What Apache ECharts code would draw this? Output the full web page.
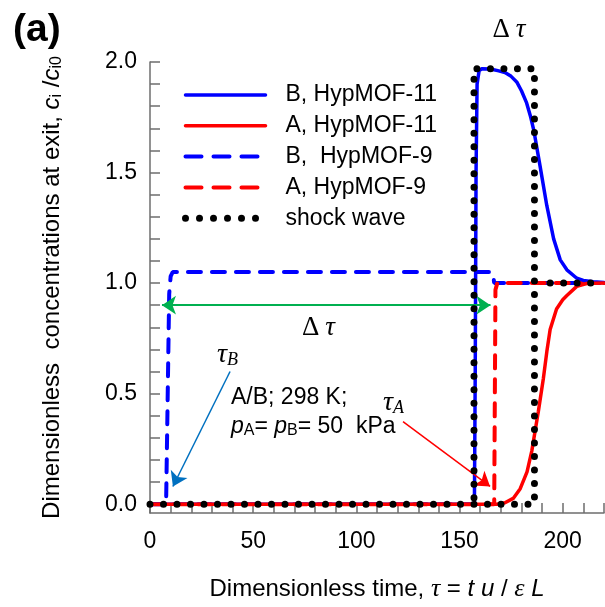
<!DOCTYPE html>
<html>
<head>
<meta charset="utf-8">
<script src="https://cdn.jsdelivr.net/npm/echarts@6/dist/echarts.min.js"></script>
<style>
  html, body { margin: 0; padding: 0; background: #fff; }
  #chart { width: 605px; height: 607px; }
</style>
</head>
<body>
<div id="chart"></div>
<script>
// Axis ticks and labels
const xLabelValues = [0, 50, 100, 150, 200];
const xTickValues = [0, 10, 20, 30, 40, 50, 60, 70, 80, 90, 100, 110, 120, 130, 140, 150, 160, 170, 180, 190, 200, 210, 220];
const yLabelValues = [0, 0.5, 1.0, 1.5, 2.0];
const yTickValues = [0, 0.1, 0.2, 0.3, 0.4, 0.5, 0.6, 0.7, 0.8, 0.9, 1.0, 1.1, 1.2, 1.3, 1.4, 1.5, 1.6, 1.7, 1.8, 1.9, 2.0];

// Exit concentration profiles [tau, c_i/c_i0]
const bHypMOF11 = [[0, 0], [157.2, 0], [157.6, 0.6], [158.0, 1.5], [158.5, 1.9], [159.5, 1.962], [161, 1.97], [165, 1.968],
  [169, 1.96], [172, 1.952], [175, 1.935], [177.7, 1.91], [180, 1.87], [182.5, 1.815], [184.5, 1.75], [186, 1.69],
  [189, 1.53], [192.3, 1.35], [195.6, 1.2], [198.8, 1.105], [202, 1.06], [206.8, 1.022], [210, 1.012], [214.8, 1.006], [220, 1.003]];
const aHypMOF11 = [[0, 0], [168, 0], [172, 0.006], [176, 0.026], [179.4, 0.07], [182.7, 0.146], [185, 0.24], [186.6, 0.33],
  [188.2, 0.42], [190.6, 0.567], [192.3, 0.69], [193.9, 0.79], [197, 0.883], [200, 0.925], [201.9, 0.943], [206.8, 0.985],
  [211.6, 0.998], [220, 1.0]];
const bHypMOF9 = [[0, 0], [7.8, 0], [9.3, 0.95], [10, 1.03], [11, 1.05], [165.5, 1.05], [166.3, 1.035], [166.8, 1.0], [220, 1.0]];
const aHypMOF9 = [[0, 0], [166.8, 0], [167.4, 0.97], [168.3, 1.0], [220, 1.0]];
// Shock-wave solution: front of B at 157, front of A at 186.3
const shockFronts = [[0, 0], [186.3, 0], [186.3, 1.97], [157, 1.97], [157, 0]];
const shockPlateau = [[193.9, 1.0], [214, 1.0]];

// Annotation arrows [from, to]
const deltaTauArrow = [[5.8, 0.9], [165, 0.9]];
const tauBArrow = [[38.8, 0.6], [11.1, 0.08]];
const tauAArrow = [[122.6, 0.373], [164.8, 0.08]];

const SANS = '"Liberation Sans", Arial, Helvetica, sans-serif';
const SERIF = '"Liberation Serif", "Times New Roman", serif';
const AXIS = '#6e6e6e';
const BLUE = '#0000ff';
const RED = '#ff0000';

const legendNames = ['B, HypMOF-11', 'A, HypMOF-11', 'B,  HypMOF-9', 'A, HypMOF-9', 'shock wave'];
const solidStyle = (c) => ({ color: c, width: 3.5, type: 'solid', cap: 'round' });
const dashedStyle = (c) => ({ color: c, width: 4, type: [13, 11], cap: 'round' });
const dotStyle = { color: '#000', width: 7, type: [0, 13.5], cap: 'round' };

const chart = echarts.init(document.getElementById('chart'), null, { renderer: 'canvas' });

const lineSeries = (name, data, lineStyle, z) => ({
  name, type: 'line', data, z, symbol: 'none', showSymbol: false,
  lineStyle, itemStyle: { color: lineStyle.color }, emphasis: { disabled: true }, silent: true
});

const option = {
  animation: false,
  backgroundColor: '#ffffff',
  grid: { left: 150, right: 1, top: 62, height: 452.5 },
  legend: {
    orient: 'vertical', left: 182, top: 83.5, padding: 0,
    itemWidth: 80, itemHeight: 14, itemGap: 7.8,
    selectedMode: false,
    itemStyle: { opacity: 0 },
    formatter: (n) => '{t|' + n + '}',
    textStyle: {
      color: '#000', fontFamily: SANS, fontSize: 23, lineHeight: 23,
      rich: { t: { fontFamily: SANS, fontSize: 23, lineHeight: 23, padding: [0, 0, 0, 15], color: '#000' } }
    },
    data: [
      { name: legendNames[0], lineStyle: { color: BLUE, width: 3.5, type: 'solid', cap: 'round' } },
      { name: legendNames[1], lineStyle: { color: RED, width: 3.5, type: 'solid', cap: 'round' } },
      { name: legendNames[2], lineStyle: { color: BLUE, width: 4, type: [16, 12], cap: 'round' } },
      { name: legendNames[3], lineStyle: { color: RED, width: 4, type: [16, 12], cap: 'round' } },
      { name: legendNames[4], lineStyle: { color: '#000', width: 7, type: [0, 14], cap: 'round' } }
    ]
  },
  xAxis: {
    type: 'value', min: 0, max: 220,
    axisLine: { onZero: false, lineStyle: { color: AXIS, width: 1.5 } },
    axisTick: { inside: true, length: 10, customValues: xTickValues, lineStyle: { color: AXIS, width: 1.5 } },
    axisLabel: { customValues: xLabelValues, margin: 17, color: '#000', fontFamily: SANS, fontSize: 23 },
    splitLine: { show: false },
    name: 'Dimensionless time, {g|τ}{n| = }{i|t u}{n| / }{g|ε}{n| }{i|L}',
    nameLocation: 'middle', nameGap: 63,
    nameTextStyle: {
      color: '#000', fontFamily: SANS, fontSize: 24, lineHeight: 26,
      rich: {
        n: { fontFamily: SANS, fontSize: 24, lineHeight: 26, color: '#000' },
        i: { fontFamily: SANS, fontSize: 24, lineHeight: 26, fontStyle: 'italic', color: '#000' },
        g: { fontFamily: SERIF, fontSize: 26, lineHeight: 26, fontStyle: 'italic', color: '#000' }
      }
    }
  },
  yAxis: {
    type: 'value', min: -0.04, max: 2.0,
    axisLine: { show: true, onZero: false, lineStyle: { color: AXIS, width: 1.5 } },
    axisTick: { show: true, inside: true, length: 10, customValues: yTickValues, lineStyle: { color: AXIS, width: 1.5 } },
    axisLabel: { customValues: yLabelValues, margin: 13, color: '#000', fontFamily: SANS, fontSize: 23,
      formatter: (v) => v.toFixed(1) },
    splitLine: { show: false },
    name: 'Dimensionless  concentrations at exit, {c|c}{s|i}{n| /}{c|c}{s|i0}',
    nameLocation: 'middle', nameRotate: 90, nameGap: 85,
    nameTextStyle: {
      color: '#000', fontFamily: SANS, fontSize: 24, lineHeight: 26,
      rich: {
        n: { fontFamily: SANS, fontSize: 24, lineHeight: 26, color: '#000' },
        c: { fontFamily: SANS, fontSize: 24, lineHeight: 26, fontStyle: 'italic', color: '#000' },
        s: { fontFamily: SANS, fontSize: 16, lineHeight: 10, verticalAlign: 'bottom', color: '#000' }
      }
    }
  },
  series: [
    lineSeries(legendNames[2], bHypMOF9, dashedStyle(BLUE), 2),
    lineSeries(legendNames[3], aHypMOF9, dashedStyle(RED), 3),
    lineSeries(legendNames[0], bHypMOF11, solidStyle(BLUE), 4),
    lineSeries(legendNames[1], aHypMOF11, solidStyle(RED), 5),
    lineSeries(legendNames[4], shockFronts, dotStyle, 6),
    lineSeries(legendNames[4], shockPlateau, dotStyle, 6),
    {
      name: 'arrows', type: 'line', data: [], z: 7, silent: true,
      markLine: {
        silent: true, animation: false, symbolSize: 14,
        label: { show: false },
        emphasis: { disabled: true },
        data: [
          [
            { coord: deltaTauArrow[0], symbol: 'arrow', lineStyle: { color: '#00b050', width: 2, type: 'solid' } },
            { coord: deltaTauArrow[1], symbol: 'arrow' }
          ],
          [
            { coord: tauBArrow[0], symbol: 'none', lineStyle: { color: '#0070c0', width: 1.5, type: 'solid' } },
            { coord: tauBArrow[1], symbol: 'arrow' }
          ],
          [
            { coord: tauAArrow[0], symbol: 'none', lineStyle: { color: RED, width: 1.5, type: 'solid' } },
            { coord: tauAArrow[1], symbol: 'arrow' }
          ]
        ]
      }
    }
  ],
  graphic: [
    { type: 'text', x: 13, y: 11, silent: true,
      style: { text: '(a)', font: 'bold 39px ' + SANS, fill: '#000', align: 'left', verticalAlign: 'top' } },
    { type: 'text', x: 509, y: 30, silent: true,
      style: { text: '{d|Δ}{t|τ}', align: 'center', verticalAlign: 'middle',
        rich: { d: { font: '27px ' + SERIF, fill: '#000' }, t: { font: 'italic 27px ' + SERIF, fill: '#000', padding: [0, 0, 0, 6] } } } },
    { type: 'text', x: 318.5, y: 328, silent: true,
      style: { text: '{d|Δ}{t|τ}', align: 'center', verticalAlign: 'middle',
        rich: { d: { font: '27px ' + SERIF, fill: '#000' }, t: { font: 'italic 27px ' + SERIF, fill: '#000', padding: [0, 0, 0, 6] } } } },
    { type: 'text', x: 217, y: 355, silent: true,
      style: { text: '{t|τ}{s|B}', align: 'left', verticalAlign: 'middle',
        rich: { t: { font: 'italic 28px ' + SERIF, fill: '#000', lineHeight: 28 },
                s: { font: 'italic 18px ' + SERIF, fill: '#000', lineHeight: 12, verticalAlign: 'bottom' } } } },
    { type: 'text', x: 383, y: 403, silent: true,
      style: { text: '{t|τ}{s|A}', align: 'left', verticalAlign: 'middle',
        rich: { t: { font: 'italic 28px ' + SERIF, fill: '#000', lineHeight: 28 },
                s: { font: 'italic 18px ' + SERIF, fill: '#000', lineHeight: 12, verticalAlign: 'bottom' } } } },
    { type: 'text', x: 231, y: 398, silent: true,
      style: { text: 'A/B; 298 K;', font: '23px ' + SANS, fill: '#000', align: 'left', verticalAlign: 'middle' } },
    { type: 'text', x: 231, y: 427, silent: true,
      style: { text: '{p|p}{s|A}{n|= }{p|p}{s|B}{n|= 50  kPa}', align: 'left', verticalAlign: 'middle',
        rich: { p: { font: 'italic 23px ' + SANS, fill: '#000', lineHeight: 24 },
                n: { font: '23px ' + SANS, fill: '#000', lineHeight: 24 },
                s: { font: '16px ' + SANS, fill: '#000', lineHeight: 10, verticalAlign: 'bottom' } } } }
  ]
};

chart.setOption(option);
</script>
</body>
</html>
